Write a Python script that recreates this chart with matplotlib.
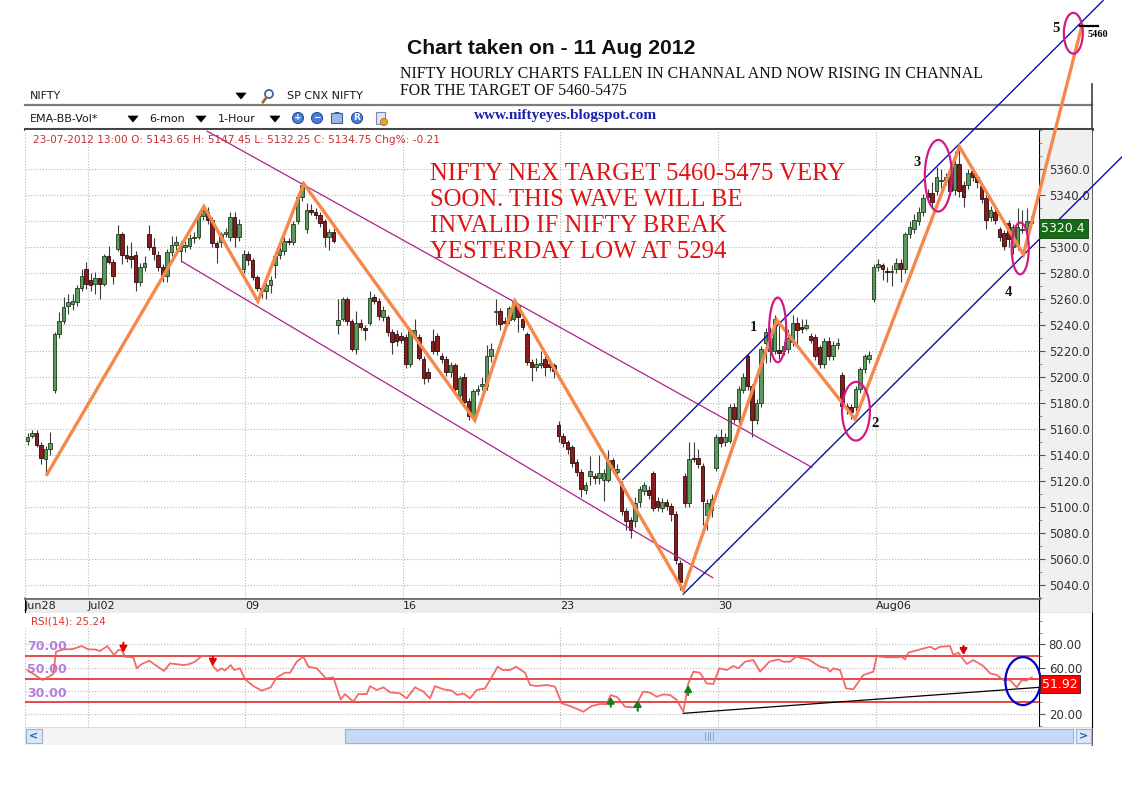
import numpy as np
import matplotlib
matplotlib.use("Agg")
import matplotlib.pyplot as plt
from matplotlib.patches import Ellipse, Rectangle, Polygon, Circle
import matplotlib.transforms as mtransforms

# ---------------------------------------------------------------- data
# hourly NIFTY candles (28-Jun-2012 .. 10-Aug-2012)
opens = [
    5151, 5155, 5157, 5148, 5137, 5145, 5190, 5233, 5243, 5255, 5256, 5258, 5269, 5283,
    5275, 5272, 5276, 5272, 5293, 5289, 5299, 5310, 5294, 5293, 5294, 5273, 5285, 5310,
    5300, 5294, 5285, 5278, 5296, 5302, 5297, 5300, 5301, 5307, 5308, 5324, 5327, 5321,
    5303, 5304, 5310, 5308, 5323, 5308, 5283, 5295, 5290, 5277, 5269, 5266, 5271, 5286,
    5294, 5297, 5305, 5304, 5320, 5339, 5314, 5329, 5327, 5325, 5320, 5308, 5312, 5240,
    5245, 5260, 5243, 5222, 5242, 5238, 5242, 5262, 5259, 5246, 5246, 5235, 5233, 5232,
    5231, 5210, 5232, 5231, 5214, 5204, 5228, 5232, 5216, 5214, 5204, 5209, 5186, 5200,
    5182, 5170, 5189, 5193, 5193, 5216, 5250, 5251, 5243, 5244, 5245, 5255, 5245, 5233,
    5212, 5208, 5209, 5214, 5210, 5209, 5163, 5155, 5150, 5146, 5135, 5127, 5113, 5124,
    5124, 5122, 5121, 5121, 5136, 5127, 5118, 5097, 5090, 5089, 5104, 5112, 5113, 5126,
    5105, 5099, 5104, 5101, 5095, 5057, 5124, 5103, 5138, 5138, 5132, 5094, 5098, 5130,
    5154, 5150, 5151, 5177, 5168, 5190, 5216, 5193, 5167, 5180, 5226, 5220, 5220, 5221,
    5220, 5222, 5227, 5242, 5239, 5238, 5232, 5231, 5223, 5210, 5228, 5216, 5225, 5202,
    5178, 5177, 5177, 5191, 5206, 5214, 5260, 5285, 5286, 5282, 5281, 5283, 5288, 5283,
    5310, 5314, 5320, 5327, 5342, 5342, 5343, 5351, 5352, 5357, 5344, 5364, 5348, 5348,
    5359, 5354, 5347, 5338, 5323, 5327, 5314, 5311, 5319, 5300, 5301, 5313, 5314, 5319,
]
highs = [
    5157, 5159, 5159, 5150, 5147, 5158, 5235, 5250, 5262, 5264, 5264, 5271, 5283, 5289,
    5280, 5281, 5276, 5295, 5301, 5291, 5317, 5312, 5302, 5304, 5297, 5288, 5293, 5317,
    5307, 5297, 5287, 5299, 5309, 5309, 5305, 5305, 5310, 5312, 5327, 5333, 5331, 5323,
    5305, 5312, 5315, 5327, 5327, 5322, 5298, 5297, 5292, 5279, 5271, 5273, 5278, 5296,
    5302, 5308, 5307, 5320, 5342, 5350, 5334, 5333, 5330, 5327, 5322, 5314, 5315, 5260,
    5262, 5262, 5245, 5251, 5245, 5240, 5266, 5264, 5261, 5255, 5248, 5237, 5236, 5235,
    5233, 5238, 5245, 5233, 5216, 5207, 5237, 5234, 5219, 5216, 5212, 5211, 5201, 5203,
    5184, 5191, 5194, 5200, 5225, 5226, 5260, 5253, 5246, 5255, 5260, 5257, 5247, 5235,
    5214, 5215, 5220, 5216, 5213, 5211, 5166, 5157, 5152, 5148, 5137, 5129, 5119, 5139,
    5126, 5140, 5129, 5144, 5138, 5133, 5120, 5099, 5092, 5108, 5116, 5119, 5116, 5128,
    5108, 5107, 5106, 5103, 5097, 5059, 5126, 5150, 5150, 5145, 5134, 5106, 5110, 5156,
    5160, 5157, 5179, 5180, 5193, 5203, 5218, 5195, 5183, 5224, 5238, 5239, 5248, 5240,
    5227, 5237, 5248, 5246, 5245, 5245, 5234, 5233, 5225, 5230, 5231, 5228, 5230, 5204,
    5180, 5179, 5193, 5208, 5218, 5220, 5287, 5291, 5288, 5285, 5286, 5292, 5291, 5312,
    5320, 5326, 5331, 5341, 5345, 5350, 5362, 5360, 5357, 5360, 5374, 5376, 5351, 5360,
    5362, 5356, 5349, 5340, 5332, 5330, 5316, 5313, 5321, 5318, 5330, 5329, 5330, 5324,
]
lows = [
    5148, 5153, 5146, 5133, 5126, 5140, 5188, 5230, 5241, 5249, 5252, 5255, 5266, 5268,
    5266, 5264, 5260, 5270, 5287, 5272, 5297, 5287, 5289, 5284, 5266, 5270, 5282, 5298,
    5290, 5282, 5273, 5273, 5293, 5298, 5289, 5296, 5299, 5303, 5306, 5321, 5318, 5300,
    5288, 5300, 5308, 5305, 5300, 5305, 5280, 5286, 5275, 5266, 5261, 5260, 5265, 5276,
    5291, 5294, 5302, 5302, 5318, 5336, 5311, 5325, 5322, 5316, 5300, 5298, 5303, 5233,
    5243, 5240, 5220, 5218, 5236, 5229, 5240, 5256, 5244, 5243, 5232, 5218, 5224, 5226,
    5207, 5208, 5230, 5213, 5195, 5196, 5218, 5217, 5211, 5201, 5200, 5188, 5183, 5178,
    5167, 5168, 5186, 5190, 5190, 5212, 5240, 5236, 5239, 5241, 5243, 5235, 5236, 5209,
    5197, 5205, 5207, 5201, 5205, 5199, 5150, 5146, 5141, 5131, 5124, 5108, 5110, 5117,
    5118, 5118, 5105, 5119, 5126, 5124, 5094, 5082, 5076, 5085, 5100, 5109, 5106, 5097,
    5097, 5096, 5098, 5089, 5056, 5036, 5100, 5100, 5135, 5130, 5086, 5082, 5092, 5128,
    5146, 5147, 5149, 5165, 5165, 5188, 5190, 5154, 5164, 5177, 5211, 5212, 5218, 5214,
    5217, 5219, 5224, 5224, 5234, 5236, 5226, 5213, 5207, 5207, 5213, 5213, 5222, 5175,
    5172, 5168, 5174, 5188, 5203, 5211, 5258, 5282, 5275, 5273, 5270, 5280, 5273, 5280,
    5307, 5311, 5317, 5324, 5335, 5331, 5340, 5346, 5348, 5340, 5340, 5339, 5331, 5345,
    5351, 5346, 5334, 5314, 5320, 5318, 5305, 5298, 5300, 5295, 5298, 5311, 5311, 5316,
]
closes = [
    5154, 5157, 5148, 5138, 5145, 5149, 5233, 5243, 5254, 5258, 5259, 5269, 5278, 5272,
    5271, 5276, 5272, 5293, 5289, 5278, 5310, 5294, 5292, 5291, 5273, 5285, 5288, 5300,
    5295, 5285, 5278, 5296, 5302, 5304, 5301, 5302, 5307, 5308, 5324, 5328, 5321, 5303,
    5300, 5310, 5312, 5323, 5308, 5318, 5295, 5290, 5277, 5269, 5266, 5271, 5275, 5293,
    5298, 5305, 5304, 5318, 5339, 5348, 5329, 5327, 5325, 5319, 5308, 5312, 5305, 5244,
    5260, 5243, 5222, 5242, 5239, 5236, 5261, 5259, 5247, 5252, 5235, 5227, 5228, 5229,
    5210, 5236, 5236, 5215, 5199, 5199, 5220, 5220, 5214, 5204, 5209, 5191, 5199, 5181,
    5170, 5189, 5191, 5195, 5216, 5222, 5251, 5241, 5242, 5253, 5258, 5246, 5239, 5212,
    5208, 5210, 5211, 5208, 5208, 5205, 5155, 5149, 5145, 5134, 5127, 5114, 5117, 5128,
    5122, 5126, 5126, 5136, 5130, 5129, 5097, 5089, 5082, 5103, 5114, 5117, 5109, 5099,
    5100, 5104, 5101, 5095, 5059, 5042, 5103, 5137, 5137, 5133, 5105, 5103, 5106, 5154,
    5149, 5154, 5177, 5168, 5191, 5200, 5193, 5167, 5180, 5222, 5235, 5230, 5245, 5219,
    5224, 5230, 5242, 5236, 5237, 5240, 5229, 5216, 5210, 5228, 5216, 5225, 5226, 5178,
    5176, 5173, 5191, 5206, 5216, 5217, 5285, 5287, 5283, 5281, 5282, 5288, 5283, 5310,
    5316, 5321, 5327, 5338, 5339, 5335, 5354, 5352, 5354, 5343, 5364, 5343, 5339, 5357,
    5354, 5350, 5337, 5321, 5329, 5321, 5308, 5301, 5306, 5316, 5316, 5314, 5320, 5320.4,
]
last_close = "5320.4"

date_labels = ["Jun28", "Jul02", "09", "16", "23", "30", "Aug06"]
date_pos = [-0.56, 13.4, 48.3, 83.4, 118.3, 153.4, 188.6]     # candle index of session starts

price_ticks = [5040, 5060, 5080, 5100, 5120, 5140, 5160, 5180, 5200, 5220,
               5240, 5260, 5280, 5300, 5320, 5340, 5360]

# Elliott-wave zig-zag (candle index, price)
zig_idx = [4.33, 39.2, 51.2, 61.4, 99.4, 108.3, 145.7, 166.5, 183.9, 207.1, 221.3, 234.3]
zig_price = [5125.2, 5331.3, 5258.5, 5348.9, 5166.8, 5258.7, 5035.9, 5244.1, 5167.7, 5377.4, 5294.4, 5470.5]

# falling channel (magenta) and rising channel (blue): (idx0, price0, idx1, price1)
fall_channel = [(39.9, 5389.4, 174.3, 5130.6), (34.3, 5289.1, 152.3, 5045.6)]
rise_channel = [(132.3, 5121.2, 239.0, 5489.9), (145.7, 5032.9, 243.2, 5369.6)]

# circled wave points: (idx, price, width idx, height price)
wave_circles = [(166.7, 5236.4, 3.8, 49.8), (184.1, 5173.8, 6.2, 45.2), (202.4, 5355.1, 6.0, 55.1),
                (220.6, 5299.1, 3.8, 39.8), (232.4, 5464.8, 4.2, 31.4)]
wave_names = ["1", "2", "3", "4", "5"]
wave_name_idx = [161.4, 188.3, 197.7, 217.9, 228.6]
wave_name_price = [5238.6, 5164.3, 5365.0, 5265.4, 5468.5]
target_label = "5460"
target_idx = [233.9, 237.9]
target_price = 5470.6

# RSI(14)
rsi_idx = [-0.04, 1.67, 3.38, 5.0, 5.73, 6.33, 7.96, 10.04, 12.04, 13.51, 15.0, 16.11, 17.73, 19.22,
           20.18, 20.93, 21.67, 23.51, 24.27, 25.38, 27.07, 28.71, 30.33, 31.67, 34.62, 35.73, 37.22,
           38.71, 40.4, 41.16, 42.18, 43.16, 43.89, 45.16, 45.89, 47.22, 48.33, 50.18, 52.04, 54.04,
           55.38, 57.22, 58.33, 59.82, 61.29, 62.4, 64.27, 66.33, 67.96, 69.6, 70.56, 72.4, 73.51,
           75.38, 76.11, 77.6, 79.07, 80.56, 82.78, 84.27, 86.11, 87.96, 89.44, 90.56, 92.4, 94.27,
           95.51, 96.84, 98.33, 99.82, 101.67, 102.78, 104.49, 105.6, 107.22, 108.56, 110.56, 111.67,
           113.16, 115.38, 117.22, 118.71, 120.56, 123.51, 125.38, 127.22, 128.71, 129.6, 131.07,
           132.78, 134.62, 135.38, 136.84, 138.33, 139.82, 141.29, 142.78, 144.27, 145.73, 146.84,
           147.96, 149.44, 150.93, 152.4, 153.73, 155.38, 156.84, 157.96, 159.44, 161.29, 162.78,
           164.84, 166.84, 167.96, 169.44, 170.78, 173.51, 176.11, 177.73, 178.33, 179.07, 180.56,
           181.89, 183.51, 185.73, 187.22, 187.96, 188.71, 190.93, 193.16, 194.27, 195.0, 195.73,
           198.33, 200.56, 201.67, 202.78, 205.0, 205.73, 206.84, 208.71, 210.18, 212.4, 213.89,
           215.38, 216.84, 218.33, 219.82, 220.93, 221.89, 223.16]
rsi_val = [57.9, 53.6, 49.3, 52.8, 54.5, 73.7, 75.7, 76.0, 78.6, 75.7, 75.7, 74.3, 78.6, 70.9,
           75.2, 75.2, 69.4, 68.8, 59.4, 63.1, 66.0, 61.4, 57.1, 63.7, 62.2, 62.8, 65.1,
           70.0, 70.0, 61.4, 57.1, 59.4, 57.4, 62.2, 57.9, 59.4, 49.9, 44.1, 40.1, 43.0,
           51.6, 55.6, 55.6, 65.1, 69.4, 60.8, 59.4, 50.7, 51.6, 32.6, 37.2, 30.6, 37.2,
           37.2, 44.1, 40.7, 43.0, 38.7, 37.8, 33.5, 43.0, 39.3, 33.5, 44.1, 41.3, 40.1,
           36.4, 37.8, 33.5, 40.7, 42.1, 49.3, 60.8, 57.9, 57.9, 60.8, 55.6, 45.0,
           44.1, 45.0, 43.6, 29.2, 26.9, 22.0, 26.9, 28.6, 28.6, 36.4, 34.4,
           26.3, 25.7, 29.2, 39.3, 38.4, 34.9, 36.9, 36.4, 32.1, 22.0, 46.4,
           56.5, 55.6, 46.4, 45.9, 59.4, 57.9, 61.4, 59.4, 65.1, 66.5, 56.5,
           65.1, 67.1, 65.1, 65.1, 69.4, 67.1, 60.8, 59.4, 56.5, 59.4, 57.9,
           42.1, 41.3, 53.6, 55.6, 56.5, 70.0, 68.9, 68.9, 69.4, 67.1, 72.9,
           75.7, 78.0, 75.7, 78.0, 78.6, 70.9, 72.9, 63.1, 66.5, 61.4, 55.1,
           53.6, 49.3, 49.3, 43.0, 49.3, 48.7, 51.6]
rsi_title = "RSI(14): 25.24"
rsi_last = "51.92"
rsi_levels = [70, 50, 30]
rsi_ticks = [20, 40, 60, 80]
sell_idx = [21.3, 41.2, 208.0]
sell_from = [81.5, 69.4, 78.6]
sell_to = [72.9, 61.4, 70.9]
buy_idx = [129.6, 135.6, 146.8]
buy_from = [26.3, 22.8, 36.4]
buy_to = [34.9, 32.1, 45.0]
rsi_trend = [(145.7, 20.6), (224.8, 43.0)]
rsi_circle = (221.2, 48.4, 7.8, 41.4)

# ---------------------------------------------------------------- layout helpers
W, H = 1122, 793
fig = plt.figure(figsize=(W / 100, H / 100), dpi=100)
fig.patch.set_facecolor("white")


def rect(x0, y0, x1, y1):
    return [x0 / W, 1 - y1 / H, (x1 - x0) / W, (y1 - y0) / H]


XL = (-0.56, 224.77)
PY = (5031.8, 5390.3)
RY = (8.8, 107.1)
GRID = dict(color="#b8b8b8", lw=0.8, ls=(0, (1, 1.6)))

# ---------------------------------------------------------------- header decoration (pixel overlay)
axo = fig.add_axes([0, 0, 1, 1], zorder=0)
axo.set_xlim(0, W)
axo.set_ylim(H, 0)
axo.axis("off")
hdr = dict(fontsize=8, color="#1a1a1a", va="center", family="DejaVu Sans")
axo.text(30, 96, "NIFTY", **hdr)
axo.text(287, 96, "SP CNX NIFTY", **hdr)
axo.text(30, 119, "EMA-BB-Vol*", **hdr)
axo.text(149, 119, "6-mon", **hdr)
axo.text(218, 119, "1-Hour", **hdr)
for tx, ty in [(241, 96), (133, 119), (201, 119), (275, 119)]:
    axo.add_patch(Polygon([(tx - 5, ty - 3), (tx + 5, ty - 3), (tx, ty + 3)], closed=True,
                          fc="black", ec="black", lw=0.5))
axo.add_patch(Circle((269, 94), 4, fc="white", ec="#3a62b0", lw=1.3))
axo.plot([266, 263], [98, 102], color="#a07020", lw=2)
for k, cx in enumerate([298, 317, 337, 357]):
    axo.add_patch(Circle((cx, 118), 5.5, fc="#4b7fd6", ec="#2a4f9a", lw=0.8))
    sym = ["+", "\u2212", "", "R"][k]
    if sym:
        axo.text(cx, 118, sym, fontsize=6.5, color="white", ha="center", va="center", weight="bold")
axo.add_patch(Rectangle((331, 113), 11, 10, fc="#9fb8e0", ec="#3a62b0", lw=0.8))
axo.add_patch(Rectangle((376, 112), 9, 12, fc="#dfe6f2", ec="#7a8aa8", lw=0.8))
axo.add_patch(Circle((384, 122), 3.5, fc="#f0a030", ec="#b06a10", lw=0.6))
axo.plot([25, 1092], [105, 105], color="#7c7c7c", lw=1.6)
axo.plot([25, 1092], [129, 129], color="#454545", lw=2.2)
axo.plot([1092, 1092], [84, 745], color="#404040", lw=1.2)

# ---------------------------------------------------------------- main price panel
axp = fig.add_axes(rect(1039, 130, 1092, 613), zorder=1)
axp.set_facecolor("#f0f0f0")
axp.set_xticks([])
axp.set_yticks([])
for s in ["top", "right"]:
    axp.spines[s].set_visible(False)
axp.spines["left"].set_color("black")
axp.spines["bottom"].set_color("black")

ax = fig.add_axes(rect(25, 130, 1039, 598), zorder=5)
ax.set_xlim(*XL)
ax.set_ylim(*PY)
for s in ax.spines.values():
    s.set_visible(False)

idx = np.arange(len(closes))
o = np.array(opens, float)
c = np.array(closes, float)
hi = np.array(highs, float)
lo = np.array(lows, float)
up = c >= o
ax.vlines(idx, lo, hi, color="#3c3c3c", lw=0.8, zorder=2)
ax.bar(idx[up], (c - o)[up], bottom=o[up], width=0.72, color="#5d9a5d",
       edgecolor="#1d3d1d", lw=0.6, zorder=3)
ax.bar(idx[~up], (c - o)[~up], bottom=o[~up], width=0.72, color="#8c1b1b",
       edgecolor="#2b0909", lw=0.6, zorder=3)

ax.yaxis.tick_right()
ax.set_yticks(price_ticks)
# the 5320.0 label sits under the last-price box, as in the original
ax.set_yticklabels(["" if v == 5320 else f"{v:.1f}" for v in price_ticks])
ax.set_yticks(np.arange(5030, 5391, 10), minor=True)
ax.tick_params(axis="y", which="major", direction="out", length=4, width=0.8, color="#555555",
               pad=3, labelsize=8.5, labelcolor="#333333")
ax.tick_params(axis="y", which="minor", direction="out", length=2.5, width=0.6, color="#777777")
ax.set_xticks(date_pos)
ax.tick_params(axis="x", length=0, labelbottom=False)
ax.grid(axis="both", which="major", **GRID)
ax.set_axisbelow(True)

# channels
for x0, y0, x1, y1 in fall_channel:
    ax.plot([x0, x1], [y0, y1], color="#b0208a", lw=0.9, zorder=4)
for x0, y0, x1, y1 in rise_channel:
    ax.plot([x0, x1], [y0, y1], color="#1010a0", lw=1.0, zorder=4, clip_on=False)

# zig-zag
ax.plot(zig_idx, zig_price, color="#f5884a", lw=2.4, solid_joinstyle="miter", zorder=6, clip_on=False)

for (cx, cy, ew, eh) in wave_circles:
    ax.add_patch(Ellipse((cx, cy), ew, eh, fill=False, ec="#d01a86", lw=1.6, zorder=7, clip_on=False))
for name, wx, wy in zip(wave_names, wave_name_idx, wave_name_price):
    ax.text(wx, wy, name, fontsize=10.5, weight="bold", family="Liberation Serif", color="#111111",
            ha="center", va="center", zorder=8, clip_on=False)
ax.plot(target_idx, [target_price, target_price], color="black", lw=1.6, clip_on=False, zorder=8)
ax.text(target_idx[1], target_price - 7, target_label, fontsize=7.5, weight="bold", family="Liberation Serif",
        ha="center", va="center", clip_on=False, zorder=8)

blend = mtransforms.blended_transform_factory(ax.transAxes, ax.transData)
ax.text(1.0 + 2.5 / 1014, float(closes[-1]) - 6, last_close, transform=blend, fontsize=9,
        color="white", ha="left", va="center", family="DejaVu Sans", clip_on=False, zorder=9,
        bbox=dict(boxstyle="square,pad=0.22", fc="#176a17", ec="#0c3f0c", lw=0.6))

# ---------------------------------------------------------------- date strip
axd = fig.add_axes(rect(25, 598, 1039, 613), zorder=2)
axd.set_facecolor("#ececec")
axd.set_xlim(*XL)
axd.set_ylim(0, 1)
axd.set_yticks([])
axd.set_xticks(date_pos)
axd.set_xticklabels(date_labels)
axd.tick_params(axis="x", length=0, pad=-8.8, labelsize=8, labelcolor="#222222")
for lb in axd.get_xticklabels():
    lb.set_ha("left")
for s in ["right", "bottom"]:
    axd.spines[s].set_visible(False)
axd.spines["top"].set_color("#6e6e6e")
axd.spines["top"].set_linewidth(2.0)
axd.spines["left"].set_color("black")

# ---------------------------------------------------------------- RSI panel
axrp = fig.add_axes(rect(1039, 613, 1092, 727), zorder=1)
axrp.set_facecolor("white")
axrp.set_xticks([])
axrp.set_yticks([])
axrp.spines["top"].set_visible(False)
axrp.spines["bottom"].set_visible(False)

axr = fig.add_axes(rect(25, 613, 1039, 727), zorder=5)
axr.set_xlim(*XL)
axr.set_ylim(*RY)
for s in axr.spines.values():
    s.set_visible(False)
axr.yaxis.tick_right()
axr.set_yticks(rsi_ticks)
# the 40.00 label is hidden behind the last-RSI box, as in the original
axr.set_yticklabels(["" if v == 40 else f"{v:.2f}" for v in rsi_ticks])
axr.set_yticks(np.arange(10, 101, 10), minor=True)
axr.tick_params(axis="y", which="major", direction="out", length=4, width=0.8, color="#555555",
                pad=3, labelsize=8.5, labelcolor="#333333")
axr.tick_params(axis="y", which="minor", direction="out", length=2.5, width=0.6, color="#777777")
axr.set_xticks([])
axr.grid(axis="y", which="major", **GRID)
axr.vlines(date_pos, RY[0], 94, **GRID)
rlab = mtransforms.blended_transform_factory(axr.transAxes, axr.transData)
for lev in rsi_levels:
    axr.axhline(lev, color="#e23a3a", lw=1.3, zorder=3)
    axr.text(2 / 1014, lev + 8, f"{lev:.2f}", transform=rlab, fontsize=9, weight="bold",
             color="#b77ede", ha="left", va="center", zorder=4)
axr.text(6 / 1014, 99.6, rsi_title, transform=rlab, fontsize=7.5, color="#e03030",
         ha="left", va="center")
axr.plot([p[0] for p in rsi_trend], [p[1] for p in rsi_trend], color="black", lw=0.9, zorder=4)
axr.plot(rsi_idx, rsi_val, color="#f25a5a", lw=1.3, alpha=0.9, zorder=5)
arrow_style = "-|>,head_length=0.6,head_width=0.35"
for xi, a, b in zip(sell_idx, sell_from, sell_to):
    axr.annotate("", xy=(xi, b), xytext=(xi, a), zorder=6,
                 arrowprops=dict(arrowstyle=arrow_style, color="#e00000", lw=1.5, mutation_scale=6,
                                 shrinkA=0, shrinkB=0))
for xi, a, b in zip(buy_idx, buy_from, buy_to):
    axr.annotate("", xy=(xi, b), xytext=(xi, a), zorder=6,
                 arrowprops=dict(arrowstyle=arrow_style, color="#14801a", lw=1.5, mutation_scale=6,
                                 shrinkA=0, shrinkB=0))
cx, cy, ew, eh = rsi_circle
axr.add_patch(Ellipse((cx, cy), ew, eh, fill=False, ec="#0000c8", lw=1.6, zorder=8, clip_on=False))
axr.text(1.0 + 3 / 1014, 45.5, rsi_last, transform=rlab, fontsize=9, color="white",
         ha="left", va="center", clip_on=False, zorder=9,
         bbox=dict(boxstyle="square,pad=0.2", fc="#ff0000", ec="#202020", lw=0.6))

# ---------------------------------------------------------------- scroll bar
axs = fig.add_axes(rect(25, 727, 1092, 745), zorder=1)
axs.set_xlim(25, 1092)
axs.set_ylim(745, 727)
axs.axis("off")
axs.add_patch(Rectangle((25, 727), 1067, 18, fc="#f4f4f4", ec="#dcdcdc", lw=0.8))
axs.add_patch(Rectangle((345, 729), 728, 14, fc="#c6d9f5", ec="#98b2dc", lw=0.8))
axs.add_patch(Rectangle((26, 729), 16, 14, fc="#dbe7f8", ec="#98b2dc", lw=0.8))
axs.add_patch(Rectangle((1076, 729), 15, 14, fc="#dbe7f8", ec="#98b2dc", lw=0.8))
axs.text(34, 736, "<", fontsize=8, weight="bold", color="#2a5aa8", ha="center", va="center")
axs.text(1083.5, 736, ">", fontsize=8, weight="bold", color="#2a5aa8", ha="center", va="center")
for gx in [705, 707.5, 710, 712.5]:
    axs.plot([gx, gx], [732, 740], color="#7f9ccc", lw=0.6)

# ---------------------------------------------------------------- annotation texts
fig.text(407 / W, 1 - 48 / H, "Chart taken on - 11 Aug 2012", fontsize=15.2, weight="bold",
         family="Liberation Sans", color="#111111", va="center", ha="left", zorder=20)
fig.text(400 / W, 1 - 74 / H, "NIFTY HOURLY CHARTS FALLEN IN CHANNAL AND NOW RISING IN CHANNAL",
         fontsize=11.45, family="Liberation Serif", color="#111111", va="center", ha="left", zorder=20)
fig.text(400 / W, 1 - 91 / H, "FOR THE TARGET OF 5460-5475",
         fontsize=11.45, family="Liberation Serif", color="#111111", va="center", ha="left", zorder=20)
fig.text(474 / W, 1 - 115 / H, "www.niftyeyes.blogspot.com", fontsize=11, weight="bold",
         family="Liberation Serif", color="#1a22b0", va="center", ha="left", zorder=20)
fig.text(33 / W, 1 - 140 / H,
         "23-07-2012 13:00 O: 5143.65 H: 5147.45 L: 5132.25 C: 5134.75 Chg%: -0.21",
         fontsize=7.6, family="DejaVu Sans", color="#c83030", va="center", ha="left", zorder=20)
red_lines = ["NIFTY NEX TARGET 5460-5475 VERY", "SOON. THIS WAVE WILL BE",
             "INVALID IF NIFTY BREAK", "YESTERDAY LOW AT 5294"]
for k, line in enumerate(red_lines):
    fig.text(430 / W, 1 - (174 + 26 * k) / H, line, fontsize=17.8, family="Liberation Serif",
             color="#e01414", va="center", ha="left", zorder=20)

fig.savefig("out.png", dpi=100, facecolor="white")
